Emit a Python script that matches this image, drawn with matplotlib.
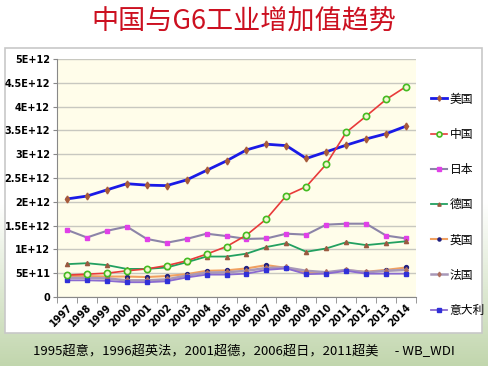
import numpy as np
import matplotlib
matplotlib.use("Agg")
import matplotlib.pyplot as plt
from matplotlib.patches import Rectangle
from matplotlib.ticker import FuncFormatter

plt.rcParams['font.family'] = ['Noto Sans CJK SC', 'DejaVu Sans']

# industry value added, current US$ (in 1E+12)
years = [str(y) for y in range(1997, 2015)]
usa = [2.06, 2.12, 2.25, 2.38, 2.35, 2.34, 2.46, 2.66, 2.86, 3.09, 3.21, 3.18, 2.91, 3.05, 3.19, 3.32, 3.43, 3.59]
china = [0.46, 0.48, 0.50, 0.55, 0.59, 0.66, 0.76, 0.90, 1.06, 1.30, 1.64, 2.13, 2.32, 2.79, 3.46, 3.80, 4.15, 4.42]
japan = [1.41, 1.25, 1.39, 1.48, 1.22, 1.14, 1.22, 1.33, 1.28, 1.22, 1.23, 1.33, 1.31, 1.52, 1.54, 1.54, 1.29, 1.23]
germany = [0.69, 0.71, 0.67, 0.59, 0.59, 0.62, 0.73, 0.85, 0.85, 0.91, 1.05, 1.13, 0.95, 1.02, 1.15, 1.09, 1.13, 1.17]
uk = [0.44, 0.44, 0.43, 0.43, 0.42, 0.44, 0.48, 0.55, 0.56, 0.60, 0.67, 0.61, 0.51, 0.51, 0.56, 0.53, 0.57, 0.62]
france = [0.40, 0.40, 0.39, 0.35, 0.35, 0.37, 0.45, 0.51, 0.52, 0.55, 0.61, 0.62, 0.55, 0.52, 0.57, 0.52, 0.55, 0.57]
italy = [0.35, 0.35, 0.34, 0.31, 0.31, 0.33, 0.41, 0.47, 0.47, 0.49, 0.57, 0.60, 0.48, 0.49, 0.55, 0.49, 0.49, 0.49]
names = ['美国', '中国', '日本', '德国', '英国', '法国', '意大利']

title = '中国与G6工业增加值趋势'
note = '1995超意，1996超英法，2001超德，2006超日，2011超美　 - WB_WDI'

fig = plt.figure(figsize=(4.88, 3.66), dpi=100)

# slide background: white top fading into pale green
bg = fig.add_axes([0, 0, 1, 1], zorder=-2)
grad = np.linspace(0, 1, 200).reshape(-1, 1)
grad = np.clip((grad - 0.55) / 0.45, 0, 1)
top = np.array([1.0, 1.0, 1.0])
bot = np.array([0.76, 0.84, 0.68])
img = top + grad[..., None] * (bot - top)
img = np.repeat(img, 2, axis=1)
bg.imshow(img, aspect='auto', extent=[0, 1, 0, 1], origin='upper')
bg.set_xlim(0, 1)
bg.set_ylim(0, 1)
bg.axis('off')

# white chart frame
W, H = 488, 366
frame = Rectangle((5 / W, 1 - 333 / H), 477 / W, 285 / H, transform=fig.transFigure,
                  facecolor='white', edgecolor='#c8c8c8', lw=1.2, zorder=-1)
fig.patches.append(frame)

ax = fig.add_axes([57 / W, 1 - 297 / H, 359 / W, 238 / H])
ax.set_facecolor('#fffdea')

x = np.arange(len(years))
e = 1e12
ax.plot(x, np.array(usa) * e, color='#1a1ae6', lw=2, marker='d', ms=3.5,
        mfc='#a85a3a', mec='#a85a3a', label=names[0], zorder=5)
ax.plot(x, np.array(china) * e, color='#e83a3a', lw=1.2, marker='o', ms=4.5,
        mfc='#f4f8d0', mec='#44bb22', mew=1.2, label=names[1], zorder=6)
ax.plot(x, np.array(japan) * e, color='#8c84a8', lw=1.5, marker='s', ms=3.5,
        mfc='#e040e8', mec='#e040e8', label=names[2], zorder=4)
ax.plot(x, np.array(germany) * e, color='#22a060', lw=1.3, marker='^', ms=3,
        mfc='#9a5a40', mec='#9a5a40', label=names[3], zorder=4)
ax.plot(x, np.array(uk) * e, color='#f0a060', lw=1.5, marker='o', ms=2.8,
        mfc='#202080', mec='#202080', label=names[4], zorder=3)
ax.plot(x, np.array(france) * e, color='#a898b8', lw=1.8, marker='d', ms=3,
        mfc='#b07060', mec='#b07060', label=names[5], zorder=3)
ax.plot(x, np.array(italy) * e, color='#8a6ad0', lw=1.3, marker='s', ms=3.5,
        mfc='#3030d8', mec='#3030d8', label=names[6], zorder=3)

ax.set_xlim(-0.5, len(years) - 0.5)
ax.set_ylim(0, 5e12)
ax.set_yticks(np.arange(0, 5.01e12, 0.5e12))


def sci(v, pos):
    if v == 0:
        return '0'
    s = '%g' % (v / 10 ** int(np.floor(np.log10(v))))
    return '%sE+%d' % (s, int(np.floor(np.log10(v))))


ax.yaxis.set_major_formatter(FuncFormatter(sci))
ax.set_xticks(x)
ax.set_xticklabels(years, rotation=45, ha='right', rotation_mode='anchor')
ax.set_xticks(np.arange(-0.5, len(years)), minor=True)
ax.tick_params(axis='x', which='major', length=0, pad=4)
ax.tick_params(axis='x', which='minor', length=4, color='#888888')
ax.tick_params(axis='y', length=3, color='#888888', pad=2)
for lab in ax.get_xticklabels() + ax.get_yticklabels():
    lab.set_fontsize(7)
    lab.set_fontweight('bold')
    lab.set_family('DejaVu Sans')

ax.grid(axis='y', color='#c8c8c0', lw=1)
ax.set_axisbelow(True)
for side in ['top', 'right']:
    ax.spines[side].set_visible(False)
ax.spines['left'].set_color('#888888')
ax.spines['bottom'].set_color('#888888')

leg = fig.legend(loc='upper left', bbox_to_anchor=(420 / W, 1 - 82 / H), frameon=False,
                 fontsize=8.5, labelspacing=1.88, handlelength=1.4, handletextpad=0.2,
                 markerscale=0.8)

fig.text(0.5, 1 - 22 / H, title, ha='center', va='center', color='#cc1020', fontsize=19.5)
fig.text(0.5, 1 - 351 / H, note, ha='center', va='center', color='black', fontsize=9.5)

fig.savefig('out.png', dpi=100)
